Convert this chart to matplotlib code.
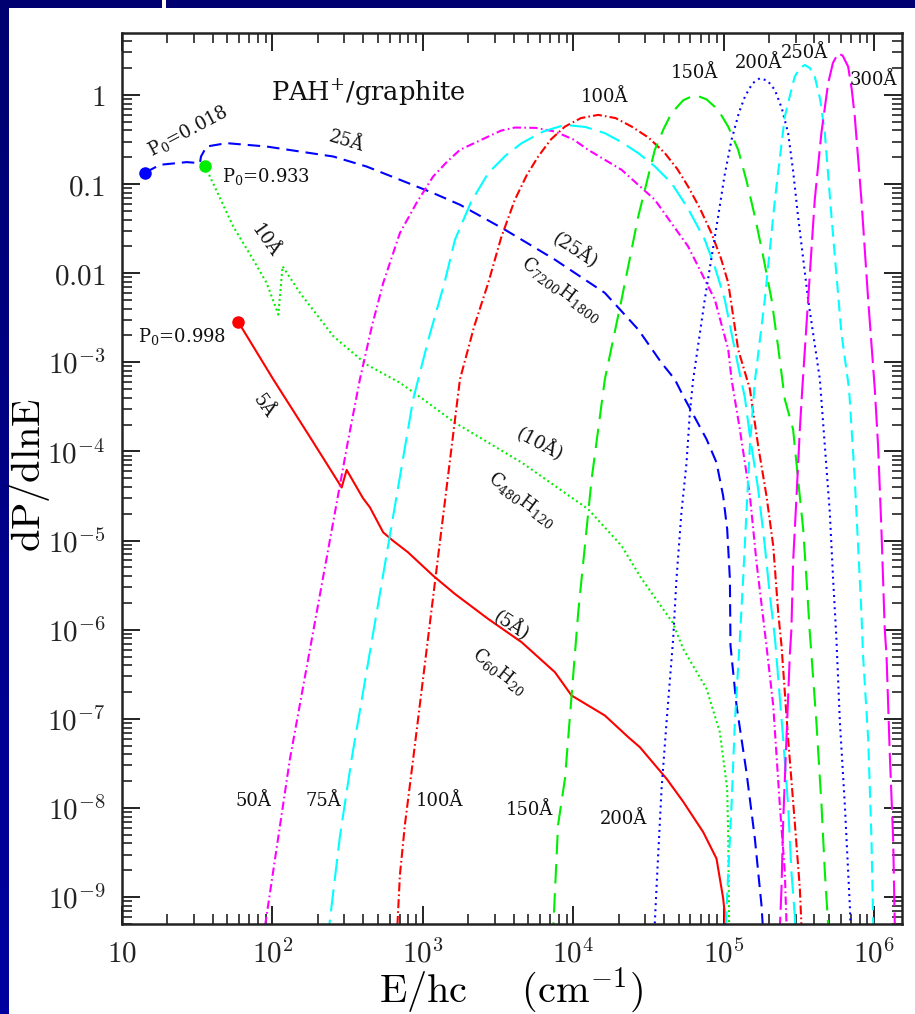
import numpy as np
import matplotlib
matplotlib.use('Agg')
import matplotlib.pyplot as plt
from matplotlib.patches import Rectangle
from matplotlib.ticker import LogLocator, NullFormatter

# 数值按图读取，存的是 log10(E/hc) 和 log10(dP/dlnE)
a5_lx = [1.771, 2.005, 2.25, 2.460, 2.493, 2.60, 2.648, 2.68, 2.736, 2.80, 2.90, 3.068, 3.213,
         3.434, 3.656, 3.877, 3.988, 4.209, 4.364, 4.442, 4.619, 4.730, 4.862, 4.951, 4.995, 5.007, 5.01]
a5_ly = [-2.542, -3.19, -3.84, -4.404, -4.207, -4.52, -4.628, -4.73, -4.908, -5.0, -5.13, -5.394, -5.599,
         -5.879, -6.14, -6.476, -6.738, -6.962, -7.204, -7.318, -7.671, -7.93, -8.268, -8.567, -9.01, -9.2, -9.5]

a10_lx = [1.551, 1.739, 1.872, 1.961, 2.039, 2.067, 2.183, 2.404, 2.625, 2.847, 3.002, 3.213, 3.656,
          4.098, 4.320, 4.45, 4.66, 4.730, 4.885, 4.973, 5.022, 5.029, 5.036]
a10_ly = [-0.795, -1.475, -1.848, -2.109, -2.464, -1.923, -2.221, -2.706, -3.024, -3.229, -3.415, -3.677, -4.124,
          -4.647, -5.058, -5.42, -5.92, -6.215, -6.663, -7.148, -7.783, -8.343, -9.5]

a25_lx = [1.153, 1.252, 1.430, 1.518, 1.525, 1.562, 1.695, 1.961, 2.404, 2.625, 2.847, 3.068, 3.246, 3.545,
          3.877, 4.209, 4.431, 4.585, 4.674, 4.730, 4.885, 4.951, 4.995, 5.022, 5.040, 5.044, 5.084, 5.150,
          5.206, 5.250, 5.265]
a25_ly = [-0.873, -0.784, -0.754, -0.765, -0.691, -0.579, -0.541, -0.579, -0.691, -0.803, -0.952, -1.101, -1.232, -1.512,
          -1.848, -2.221, -2.632, -3.005, -3.191, -3.378, -3.863, -4.124, -4.497, -4.871, -5.431, -6.178, -6.850, -7.596,
          -8.343, -9.09, -9.5]

a50_lx = [1.935, 2.116, 2.50, 2.581, 2.66, 2.736, 2.847, 2.957, 3.068, 3.16, 3.246, 3.434, 3.52, 3.611, 3.75,
          3.877, 4.0, 4.098, 4.320, 4.541, 4.762, 4.940, 5.029, 5.051, 5.106, 5.173, 5.217, 5.283, 5.328, 5.372,
          5.405, 5.42]
a50_ly = [-9.5, -7.45, -3.9, -3.191, -2.60, -2.109, -1.549, -1.213, -0.915, -0.75, -0.616, -0.467, -0.40, -0.366, -0.37,
          -0.411, -0.50, -0.616, -0.840, -1.176, -1.699, -2.296, -2.856, -3.191, -3.751, -4.497, -5.244, -6.178, -6.850, -7.970,
          -8.716, -9.5]

a75_lx = [2.365, 2.404, 2.449, 2.493, 2.526, 2.935, 3.04, 3.143, 3.213, 3.32, 3.434, 3.55, 3.656, 3.80, 3.944,
          4.08, 4.209, 4.32, 4.431, 4.54, 4.652, 4.76, 4.873, 4.94, 5.006, 5.095, 5.140, 5.173, 5.228, 5.272,
          5.306, 5.34, 5.394, 5.427, 5.449, 5.471, 5.48]
a75_ly = [-9.5, -8.94, -8.31, -7.82, -7.45, -3.415, -2.72, -2.109, -1.624, -1.20, -0.877, -0.68, -0.541, -0.41, -0.336,
          -0.36, -0.429, -0.53, -0.653, -0.80, -0.989, -1.27, -1.624, -1.93, -2.296, -3.042, -3.40, -3.826, -4.423, -5.058,
          -5.618, -6.103, -7.223, -7.970, -8.716, -9.2, -9.5]

a100_lx = [2.825, 2.847, 2.880, 2.935, 3.246, 3.34, 3.434, 3.52, 3.611, 3.69, 3.766, 3.85, 3.944, 4.05, 4.165,
           4.28, 4.387, 4.50, 4.608, 4.69, 4.762, 4.84, 4.917, 4.98, 5.029, 5.095, 5.173, 5.228, 5.283, 5.328,
           5.361, 5.383, 5.427, 5.471, 5.505, 5.52]
a100_ly = [-9.5, -8.75, -8.19, -7.45, -3.191, -2.6, -2.109, -1.6, -1.176, -0.9, -0.691, -0.5, -0.355, -0.26, -0.224,
           -0.26, -0.355, -0.48, -0.653, -0.83, -1.027, -1.27, -1.549, -1.83, -2.109, -2.856, -3.30, -3.938, -4.497, -5.058,
           -5.804, -6.178, -7.223, -8.156, -8.903, -9.5]

a150_lx = [3.862, 3.898, 3.944, 4.032, 4.121, 4.209, 4.320, 4.431, 4.541, 4.60, 4.652, 4.73, 4.807, 4.885, 4.962,
           5.03, 5.095, 5.15, 5.206, 5.26, 5.317, 5.36, 5.405, 5.460, 5.493, 5.527, 5.549, 5.571, 5.615, 5.649,
           5.671, 5.70]
a150_ly = [-9.5, -8.19, -7.67, -5.804, -4.311, -3.19, -2.296, -1.363, -0.616, -0.38, -0.205, -0.06, 0.0, -0.05, -0.168,
           -0.36, -0.616, -0.96, -1.363, -1.80, -2.296, -2.82, -3.415, -3.751, -4.311, -4.871, -5.431, -6.028, -7.036, -7.970,
           -8.716, -9.5]

a200_lx = [4.535, 4.552, 4.586, 4.619, 4.663, 4.685, 4.718, 4.752, 4.774, 4.796, 4.873, 4.962, 5.005, 5.051, 5.10,
           5.140, 5.19, 5.239, 5.29, 5.339, 5.385, 5.427, 5.46, 5.493, 5.560, 5.638, 5.671, 5.704, 5.726, 5.748,
           5.771, 5.804, 5.837, 5.845]
a200_ly = [-9.5, -8.903, -7.783, -7.036, -6.103, -5.431, -4.684, -4.124, -3.564, -3.191, -2.296, -1.363, -0.9, -0.504, -0.20,
           -0.019, 0.13, 0.187, 0.16, 0.056, -0.15, -0.429, -0.85, -1.363, -2.296, -3.191, -3.938, -4.684, -5.431, -6.103,
           -7.036, -7.970, -9.09, -9.5]

a250_lx = [5.008, 5.029, 5.051, 5.073, 5.106, 5.128, 5.150, 5.173, 5.206, 5.272, 5.339, 5.405, 5.44, 5.471, 5.505,
           5.538, 5.572, 5.604, 5.64, 5.671, 5.715, 5.781, 5.832, 5.870, 5.892, 5.914, 5.925, 5.959, 5.981, 5.995]
a250_ly = [-9.5, -8.716, -7.970, -7.036, -6.103, -5.431, -4.684, -3.938, -3.21, -2.296, -1.176, -0.243, 0.0, 0.205, 0.30,
           0.336, 0.30, 0.205, -0.05, -0.429, -1.363, -2.669, -3.3, -4.311, -5.058, -5.804, -6.289, -7.223, -8.343, -9.5]

a300_lx = [5.368, 5.383, 5.394, 5.416, 5.438, 5.449, 5.460, 5.483, 5.505, 5.521, 5.560, 5.604, 5.648, 5.693, 5.725,
           5.759, 5.79, 5.826, 5.85, 5.870, 5.914, 5.959, 6.003, 6.025, 6.047, 6.058, 6.069, 6.081, 6.103, 6.125,
           6.138]
a300_ly = [-9.5, -8.903, -8.156, -7.223, -6.289, -5.991, -5.244, -4.497, -3.751, -3.3, -2.296, -1.176, -0.429, 0.131, 0.36,
           0.467, 0.44, 0.317, 0.06, -0.243, -1.176, -2.296, -3.3, -3.938, -4.871, -5.431, -5.991, -6.289, -7.410, -8.343,
           -9.5]

x_ticks = [10, 1e2, 1e3, 1e4, 1e5, 1e6]
x_ticklabels = ['$10$', '$10^{2}$', '$10^{3}$', '$10^{4}$', '$10^{5}$', '$10^{6}$']
y_ticks = [1, 0.1, 0.01, 1e-3, 1e-4, 1e-5, 1e-6, 1e-7, 1e-8, 1e-9]
y_ticklabels = ['$1$', '$0.1$', '$0.01$', '$10^{-3}$', '$10^{-4}$', '$10^{-5}$',
                '$10^{-6}$', '$10^{-7}$', '$10^{-8}$', '$10^{-9}$']

plt.rcParams['mathtext.fontset'] = 'cm'
plt.rcParams['font.family'] = ['DejaVu Serif']
plt.rcParams['lines.scale_dashes'] = False

RED, GREEN, BLUE, MAGENTA, CYAN = '#FF0000', '#00EE00', '#0000FF', '#FF00FF', '#00FFFF'

fig = plt.figure(figsize=(9.15, 10.14), dpi=100)
fig.patch.set_facecolor('#000070')

# 左侧渐变蓝条 + 白底
bar = fig.add_axes([0, 0, 9 / 915, 1])
bar.imshow(np.linspace(0, 1, 256).reshape(-1, 1), aspect='auto', extent=[0, 1, 0, 1],
           cmap=matplotlib.colors.LinearSegmentedColormap.from_list('bar', ['#0000A0', '#000070']),
           origin='lower')
bar.set_axis_off()
fig.patches.append(Rectangle((9 / 915, 0), 1, 1006 / 1014, transform=fig.transFigure,
                             facecolor='white', edgecolor='none', zorder=-5))
fig.patches.append(Rectangle((161.5 / 915, 1006 / 1014), 4 / 915, 8 / 1014, transform=fig.transFigure,
                             facecolor='#FFFDF0', edgecolor='none', zorder=-5))

ax = fig.add_axes([122 / 915, 90 / 1014, 779.7 / 915, 891 / 1014])
ax.set_facecolor('white')

curves = [
    (a5_lx, a5_ly, RED, '-'),
    (a10_lx, a10_ly, GREEN, (0, (1.4, 2.2))),
    (a25_lx, a25_ly, BLUE, (0, (9, 5))),
    (a50_lx, a50_ly, MAGENTA, (0, (6, 2.4, 1.2, 2.4))),
    (a75_lx, a75_ly, CYAN, (0, (16, 6))),
    (a100_lx, a100_ly, RED, (0, (6.5, 2.2, 1.2, 2.2))),
    (a150_lx, a150_ly, GREEN, (0, (14, 7))),
    (a200_lx, a200_ly, BLUE, (0, (1.4, 3))),
    (a250_lx, a250_ly, CYAN, (0, (8.5, 5))),
    (a300_lx, a300_ly, MAGENTA, (0, (18, 5))),
]
for lx, ly, color, ls in curves:
    ax.plot(10 ** np.array(lx), 10 ** np.array(ly), color=color, lw=1.5, ls=ls)

# P0 起点
for lx, ly, color in [(a25_lx, a25_ly, BLUE), (a10_lx, a10_ly, GREEN), (a5_lx, a5_ly, RED)]:
    ax.plot(10 ** lx[0], 10 ** ly[0], 'o', color=color, ms=8, mec=color, zorder=5)

ax.set_xscale('log')
ax.set_yscale('log')
ax.set_xlim(10, 1.52e6)
ax.set_ylim(5e-10, 4.95)

ax.set_xticks(x_ticks, x_ticklabels)
ax.set_yticks(y_ticks, y_ticklabels)
ax.xaxis.set_minor_locator(LogLocator(base=10, subs=np.arange(2, 10), numticks=100))
ax.yaxis.set_minor_locator(LogLocator(base=10, subs=np.arange(2, 10), numticks=100))
ax.xaxis.set_minor_formatter(NullFormatter())
ax.yaxis.set_minor_formatter(NullFormatter())
ax.tick_params(which='both', direction='in', top=True, right=True, colors='#222222')
ax.tick_params(which='major', length=13, width=1.4, labelsize=21)
ax.tick_params(axis='x', which='major', pad=11)
ax.tick_params(axis='y', which='major', pad=12)
ax.tick_params(which='minor', length=7, width=1.2)
for sp in ax.spines.values():
    sp.set_linewidth(1.8)
    sp.set_color('#222222')

ax.set_xlabel(r'$\mathrm{E/hc}\quad\;\;\mathrm{(cm^{-1})}$', fontsize=29)
ax.xaxis.set_label_coords(0.499, -0.075)
ax.xaxis.label.set_va('center')
ax.set_ylabel(r'$\mathrm{dP/dlnE}$', fontsize=29)
ax.yaxis.set_label_coords(-0.118, 0.504)
ax.yaxis.label.set_va('center')

# 注释文字
txt = dict(fontsize=13, color='#111111', ha='center', va='center', rotation_mode='anchor')
ax.text(431, 1.05, r'$\mathregular{PAH^{+}}$/graphite', fontsize=18.5, color='#111111', ha='center', va='center')
ax.text(27.4, 0.395, r'$\mathregular{P_0}$=0.018', rotation=28, **txt)
ax.text(46, 0.1217, r'$\mathregular{P_0}$=0.933', fontsize=13, color='#111111', ha='left', va='center')
ax.text(12.8, 1.96e-3, r'$\mathregular{P_0}$=0.998', fontsize=13, color='#111111', ha='left', va='center')
ax.text(311, 0.300, '25Å', rotation=-17, **txt)
ax.text(89, 0.0228, '10Å', rotation=-55, **txt)
ax.text(86.9, 3.23e-4, '5Å', rotation=-55, **txt)
ax.text(10230, 0.01837, '(25Å)', rotation=-33, **txt)
ax.text(8390, 6.55e-3, r'$\mathregular{C_{7200}H_{1800}}$', rotation=-37, **txt)
ax.text(5980, 1.2e-4, '(10Å)', rotation=-28, **txt)
ax.text(4550, 2.92e-5, r'$\mathregular{C_{480}H_{120}}$', rotation=-37, **txt)
ax.text(3880, 1.11e-6, '(5Å)', rotation=-34, **txt)
ax.text(3250, 3.46e-7, r'$\mathregular{C_{60}H_{20}}$', rotation=-38, **txt)

for x, y, s in [(16200, 0.957, '100Å'), (64100, 1.75, '150Å'), (169000, 2.26, '200Å'),
                (345000, 2.93, '250Å'), (982000, 1.47, '300Å'),
                (74.5, 1.19e-8, '50Å'), (218, 1.19e-8, '75Å'), (1297, 1.19e-8, '100Å'),
                (5140, 9.4e-9, '150Å'), (21400, 7.6e-9, '200Å')]:
    ax.text(x, y, s, **txt)

fig.savefig('out.png', dpi=100, facecolor=fig.get_facecolor())
